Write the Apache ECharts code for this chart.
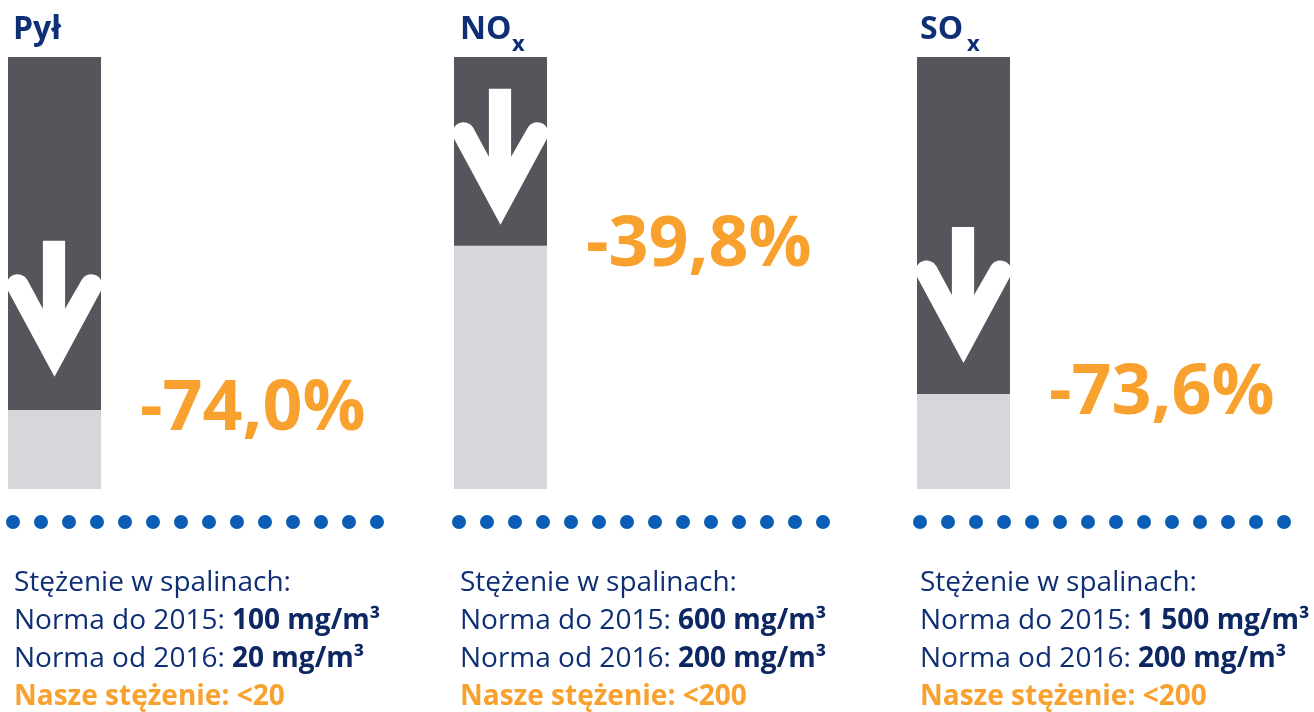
<!DOCTYPE html>
<html>
<head>
<meta charset="utf-8">
<script src="https://cdn.jsdelivr.net/npm/echarts@6/dist/echarts.min.js"></script>
<style>
  html, body { margin: 0; padding: 0; background: #fff; }
  #chart { width: 1314px; height: 712px; }
</style>
</head>
<body>
<div id="chart"></div>
<script>
// dane
const categories = ["Pył", "NOx", "SOx"];
const remainingShare = [18.3, 56.3, 22.0];   // jasna część słupka
const reducedShare = [81.7, 43.7, 78.0];     // ciemna część słupka
const reductionLabels = ["-74,0%", "-39,8%", "-73,6%"];
const arrowCenter = [41.7, 76.9, 44.9];      // środek strzałki (oś 0-100)
const normBefore = ["100 mg/m³", "600 mg/m³", "1 500 mg/m³"];
const normAfter = ["20 mg/m³", "200 mg/m³", "200 mg/m³"];
const ourLevel = ["<20", "<200", "<200"];

// układ paneli
const barLeft = [8, 454, 917];
const textLeft = [14, 460, 920];
const dotsLeft = [13, 459, 920];
const BAR_W = 93;

const NAVY = "#0f2f74";
const NAVY_BOLD = "#0d2763";
const ORANGE = "#f9a12e";
const DARK = "#55565b";
const LIGHT = "#d7d6db";
const DOT = "#0b5cb5";
const FONT = "'Open Sans', 'Noto Sans', sans-serif";

const arrowPath =
  "path://M35 0 L57 0 L57 68 L73.6 38.7 A11 11 0 0 1 93 49 L46.5 136 L0 49 A11 11 0 0 1 19.4 38.7 L35 68 Z";

const chart = echarts.init(document.getElementById("chart"));

const grid = [];
const xAxis = [];
const yAxis = [];
const series = [];
const graphic = [];

categories.forEach((cat, i) => {
  grid.push({ left: barLeft[i], width: BAR_W, top: 57, bottom: 223 });
  xAxis.push({ type: "category", gridIndex: i, data: [cat], show: false });
  yAxis.push({ type: "value", gridIndex: i, min: 0, max: 100, show: false });

  series.push({
    type: "bar",
    xAxisIndex: i,
    yAxisIndex: i,
    stack: "s" + i,
    barWidth: "100%",
    data: [remainingShare[i]],
    itemStyle: { color: LIGHT },
    silent: true,
    label: {
      show: true,
      position: ["100%", 0],
      offset: [39, 0],
      align: "left",
      verticalAlign: "middle",
      formatter: () => reductionLabels[i],
      color: ORANGE,
      fontFamily: FONT,
      fontWeight: "bold",
      fontSize: 70,
    },
  });
  series.push({
    type: "bar",
    xAxisIndex: i,
    yAxisIndex: i,
    stack: "s" + i,
    barWidth: "100%",
    data: [reducedShare[i]],
    itemStyle: { color: DARK },
    silent: true,
  });
  series.push({
    type: "scatter",
    xAxisIndex: i,
    yAxisIndex: i,
    data: [[0, arrowCenter[i]]],
    symbol: arrowPath,
    symbolSize: [96, 136],
    itemStyle: { color: "#fff", opacity: 1 },
    silent: true,
    z: 5,
  });

  // kropki
  graphic.push({
    type: "line",
    shape: { x1: dotsLeft[i], y1: 522, x2: dotsLeft[i] + 28 * 13 + 1, y2: 522 },
    style: { stroke: DOT, lineWidth: 14, lineCap: "round", lineDash: [0, 28] },
    silent: true,
  });

  // opis
  graphic.push({
    type: "text",
    left: textLeft[i],
    top: 569,
    silent: true,
    style: {
      text:
        "{n|Stężenie w spalinach:}\n" +
        "{n|Norma do 2015: }{b|" + normBefore[i] + "}\n" +
        "{n|Norma od 2016: }{b|" + normAfter[i] + "}\n" +
        "{o|Nasze stężenie: " + ourLevel[i] + "}",
      rich: {
        n: { fontFamily: FONT, fontSize: 28, fill: NAVY, lineHeight: 38 },
        b: { fontFamily: FONT, fontSize: 28, fontWeight: "bold", fill: NAVY_BOLD, lineHeight: 38 },
        o: { fontFamily: FONT, fontSize: 28, fontWeight: "bold", fill: ORANGE, lineHeight: 38 },
      },
    },
  });
});

// tytuły
const titleStyle = { fontFamily: FONT, fontSize: 32, fontWeight: "bold", fill: NAVY, verticalAlign: "middle" };
const subStyle = { fontFamily: FONT, fontSize: 22, fontWeight: "bold", fill: NAVY, verticalAlign: "middle" };
graphic.push({ type: "text", x: 13, y: 30, silent: true, style: Object.assign({ text: "Pył" }, titleStyle) });
graphic.push({ type: "text", x: 460, y: 30, silent: true, style: Object.assign({ text: "NO" }, titleStyle) });
graphic.push({ type: "text", x: 512, y: 45, silent: true, style: Object.assign({ text: "x" }, subStyle) });
graphic.push({ type: "text", x: 920, y: 30, silent: true, style: Object.assign({ text: "SO" }, titleStyle) });
graphic.push({ type: "text", x: 967, y: 45, silent: true, style: Object.assign({ text: "x" }, subStyle) });

chart.setOption({
  animation: false,
  grid,
  xAxis,
  yAxis,
  series,
  graphic,
});

window.addEventListener("resize", () => chart.resize());
</script>
</body>
</html>
